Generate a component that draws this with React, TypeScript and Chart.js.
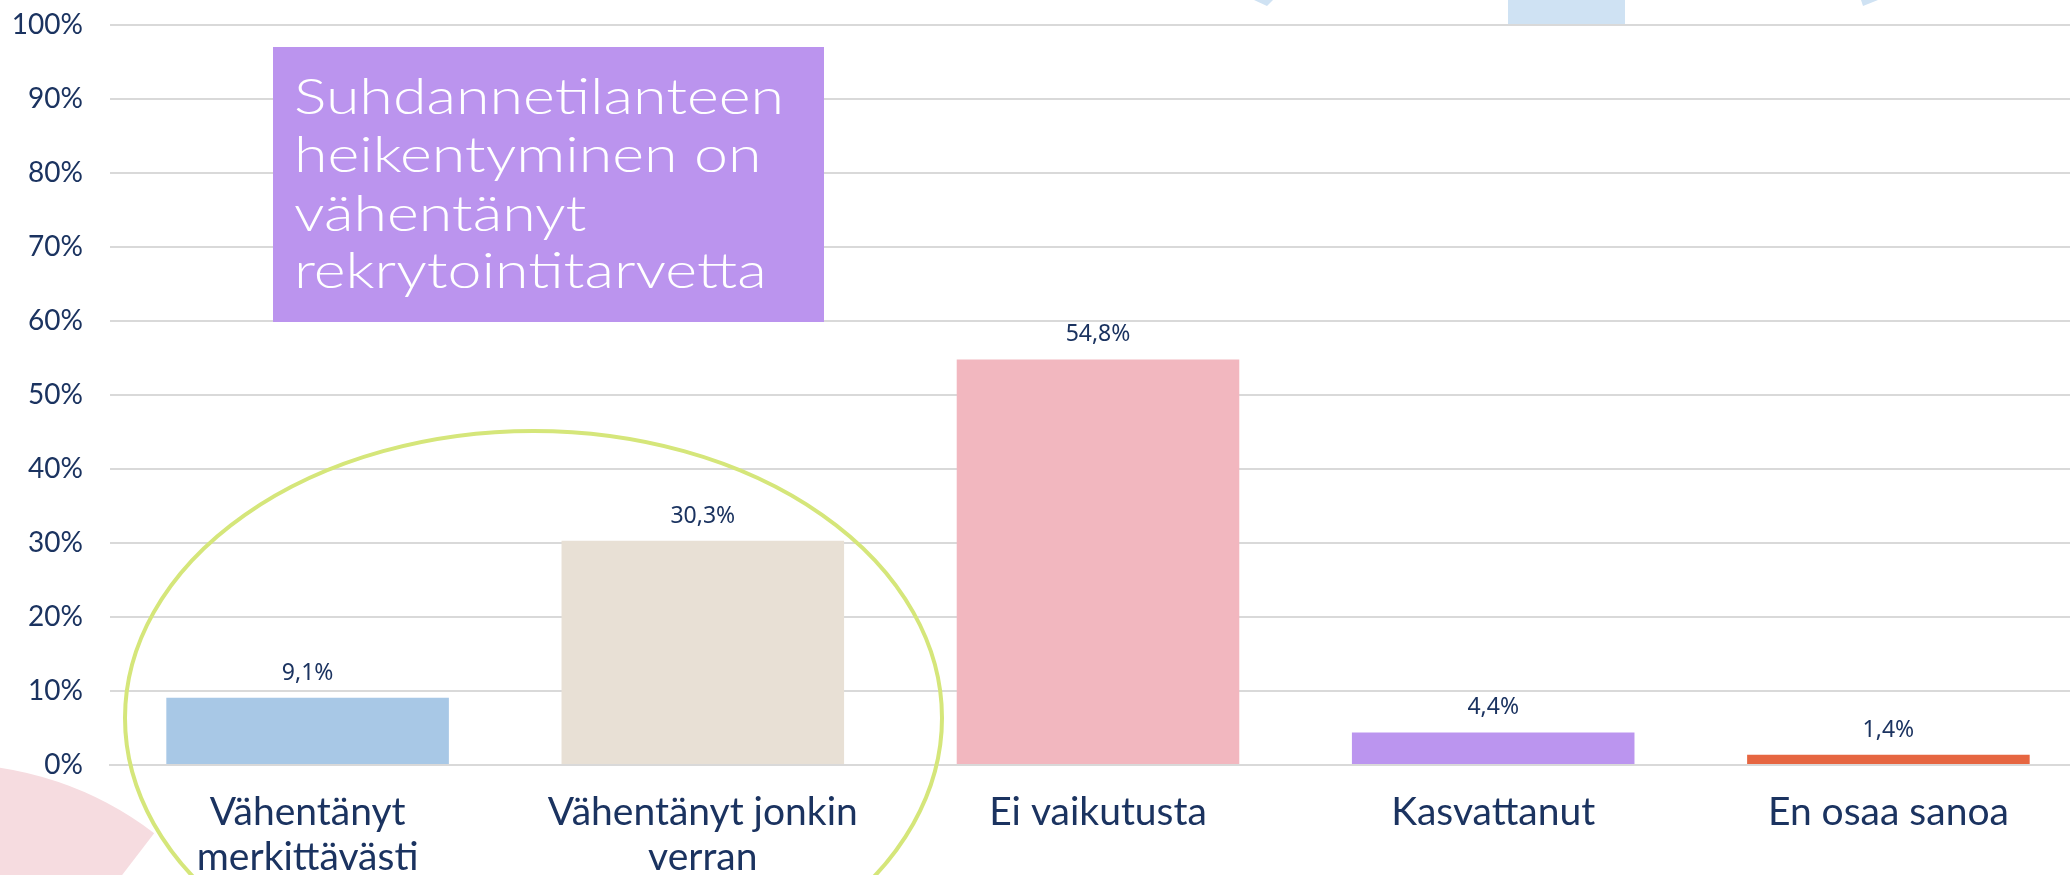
import React, { useEffect, useRef } from 'react';
import { Chart, registerables } from 'chart.js';

Chart.register(...registerables);

const categories: (string | string[])[] = [
  ['Vähentänyt', 'merkittävästi'],
  ['Vähentänyt jonkin', 'verran'],
  'Ei vaikutusta',
  'Kasvattanut',
  'En osaa sanoa',
];
const values = [9.1, 30.3, 54.8, 4.4, 1.4];
const barColors = ['#A8C8E6', '#E8E0D5', '#F2B7BF', '#BB95EF', '#E66641'];
const yMin = 0;
const yMax = 100;
const yStep = 10;
const calloutLines = ['Suhdannetilanteen', 'heikentyminen on', 'vähentänyt', 'rekrytointitarvetta'];

const NAVY = '#1B3360';

const decorPlugin = {
  id: 'decor',
  beforeDraw(chart: any) {
    const ctx = chart.ctx as CanvasRenderingContext2D;
    ctx.save();
    ctx.fillStyle = '#ffffff';
    ctx.fillRect(0, 0, chart.width, chart.height);
    // pink sector bottom-left
    ctx.beginPath();
    ctx.moveTo(-50, 1100);
    ctx.arc(-50, 1100, 336, Math.PI, 2 * Math.PI - 0.9177, false);
    ctx.closePath();
    ctx.fillStyle = '#F6DCE0';
    ctx.fill();
    // light blue shapes at top
    ctx.fillStyle = '#CFE2F3';
    ctx.fillRect(1508, 0, 117, 26);
    ctx.beginPath();
    ctx.moveTo(1254, 0);
    ctx.lineTo(1273, 0);
    ctx.lineTo(1267, 6);
    ctx.closePath();
    ctx.fill();
    ctx.beginPath();
    ctx.moveTo(1861, 0);
    ctx.lineTo(1878, 0);
    ctx.lineTo(1863, 6);
    ctx.closePath();
    ctx.fill();
    ctx.restore();
  },
  afterDatasetsDraw(chart: any) {
    const ctx = chart.ctx as CanvasRenderingContext2D;
    ctx.save();
    // callout box
    ctx.fillStyle = '#BB94EE';
    ctx.fillRect(273, 47, 551, 275);
    ctx.fillStyle = '#ffffff';
    ctx.font = '300 50px Lato';
    ctx.textAlign = 'left';
    ctx.textBaseline = 'alphabetic';
    const w0 = ctx.measureText(calloutLines[0]).width || 1;
    const sx = 490 / w0;
    const baselines = [114, 172, 231, 288];
    calloutLines.forEach((t, i) => {
      ctx.save();
      ctx.translate(294, baselines[i]);
      ctx.scale(sx, 1);
      ctx.fillText(t, 0, 0);
      ctx.restore();
    });
    // data labels
    const meta = chart.getDatasetMeta(0);
    ctx.fillStyle = NAVY;
    ctx.font = '23px "Noto Sans"';
    ctx.textAlign = 'center';
    meta.data.forEach((bar: any, i: number) => {
      const v = chart.data.datasets[0].data[i] as number;
      ctx.fillText(v.toFixed(1).replace('.', ',') + '%', bar.x, bar.y - 18);
    });
    ctx.restore();
  },
  afterDraw(chart: any) {
    const ctx = chart.ctx as CanvasRenderingContext2D;
    ctx.save();
    ctx.beginPath();
    ctx.ellipse(533.5, 718, 408.5, 287, 0, 0, Math.PI * 2);
    ctx.strokeStyle = '#D5E67A';
    ctx.lineWidth = 4;
    ctx.stroke();
    ctx.restore();
  },
};

export default function App() {
  const ref = useRef<HTMLCanvasElement>(null);
  useEffect(() => {
    if (!ref.current) return;
    const chart = new Chart(ref.current, {
      type: 'bar',
      data: {
        labels: categories as any,
        datasets: [
          {
            data: values,
            backgroundColor: barColors,
            borderWidth: 0,
            categoryPercentage: 1,
            barPercentage: 0.715,
          },
        ],
      },
      options: {
        responsive: false,
        animation: false,
        devicePixelRatio: 1,
        layout: { padding: { top: 25, right: 4, left: 0, bottom: 0 } },
        plugins: {
          legend: { display: false },
          tooltip: { enabled: false },
          title: { display: false },
        },
        scales: {
          x: {
            grid: { display: false, drawTicks: false },
            border: { display: true, color: '#D9D9D9', width: 2 },
            ticks: {
              color: NAVY,
              padding: 25,
              maxRotation: 0,
              autoSkip: false,
              font: { family: 'Lato', size: 39, lineHeight: 45 / 39 },
            },
            afterFit(scale: any) {
              scale.height = 110;
              scale.paddingLeft = 0;
              scale.paddingRight = 0;
            },
          },
          y: {
            min: yMin,
            max: yMax,
            grid: { color: '#D9D9D9', lineWidth: 2, drawTicks: false },
            border: { display: false },
            ticks: {
              stepSize: yStep,
              color: NAVY,
              padding: 27,
              font: { family: 'Lato', size: 28 },
              callback: (v: any) => v + '%',
            },
            afterFit(scale: any) {
              scale.width = 110;
              scale.paddingTop = 0;
              scale.paddingBottom = 0;
            },
          },
        },
      },
      plugins: [decorPlugin],
    });
    return () => chart.destroy();
  }, []);
  return (
    <div
      style={{
        position: 'fixed',
        left: 0,
        top: 0,
        width: 2070,
        height: 875,
        overflow: 'hidden',
        background: '#fff',
      }}
    >
      <canvas ref={ref} width={2090} height={875} style={{ display: 'block' }} />
    </div>
  );
}
